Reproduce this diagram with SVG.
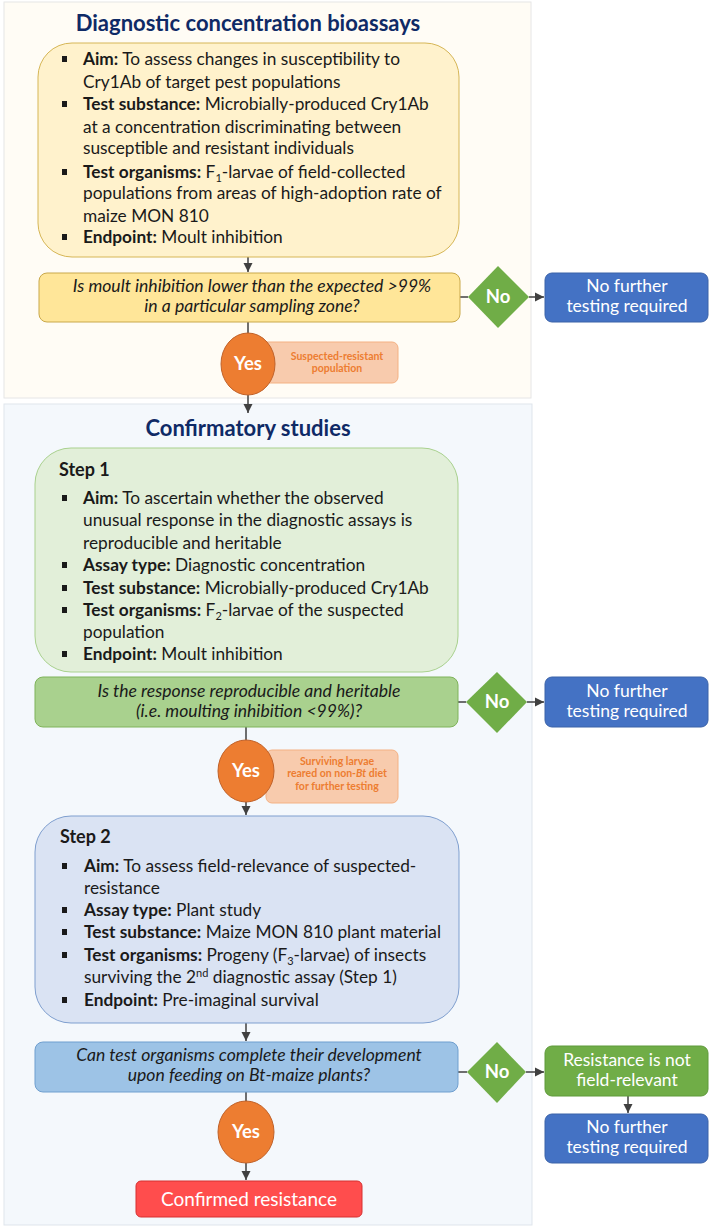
<svg xmlns="http://www.w3.org/2000/svg" width="709" height="1227" viewBox="0 0 709 1227">
<style>
text{font-family:Lato,"Open Sans","Liberation Sans",sans-serif;}
.title{font-size:22px;font-weight:bold;fill:#0f2a66;text-anchor:middle;}
.bl{font-size:17.3px;fill:#1a1a1a;}
.b{font-weight:bold;}
.step{font-size:18px;font-weight:bold;fill:#1a1a1a;}
.q{font-size:17.6px;font-style:italic;fill:#1a1a1a;text-anchor:middle;}
.w{font-size:17.5px;fill:#ffffff;text-anchor:middle;}
.cr{font-size:19px;fill:#ffffff;text-anchor:middle;}
.yn{font-size:18.5px;font-weight:bold;fill:#ffffff;text-anchor:middle;}
.lab{font-size:10.5px;font-weight:bold;fill:#ed7d31;text-anchor:middle;}
.sub{font-size:11px;}
.conn{stroke:#404040;stroke-width:1.5;fill:none;}
.arr{marker-end:url(#ah);}
.yes{fill:#ed7d31;stroke:#c0622a;stroke-width:1;}
.dia{fill:#70ad47;}
.blue{fill:#4472c4;stroke:#3a62a8;stroke-width:1;}
.lbox{fill:#f8cbad;stroke:#f4b183;stroke-width:1;}
</style>
<defs>
<marker id="ah" markerUnits="userSpaceOnUse" markerWidth="10" markerHeight="10" refX="9" refY="5" orient="auto">
<path d="M0,0.5 L9,5 L0,9.5 Z" fill="#404040"/>
</marker>
<rect id="bul" width="5" height="6" fill="#1a1a1a"/>
</defs>

<g id="panel-diagnostic">
<rect x="4" y="2" width="527" height="396" fill="#fffcf5" stroke="#e6e6e6" stroke-width="1"/>
<text class="title" x="248" y="31">Diagnostic concentration bioassays</text>
</g>
<g id="panel-confirmatory">
<rect x="4" y="404" width="528" height="821" fill="#f4f8fc" stroke="#dfe5ec" stroke-width="1"/>
<text class="title" x="248" y="436">Confirmatory studies</text>
</g>

<g id="connectors">
<line class="conn arr" x1="248" y1="257" x2="248" y2="272"/>
<line class="conn" x1="460" y1="297" x2="468" y2="297"/>
<line class="conn arr" x1="529" y1="297" x2="544" y2="297"/>
<line class="conn" x1="248" y1="322" x2="248" y2="334"/>
<line class="conn arr" x1="248" y1="395" x2="248" y2="413"/>
<line class="conn" x1="458" y1="702" x2="466" y2="702"/>
<line class="conn arr" x1="527" y1="702" x2="544" y2="702"/>
<line class="conn" x1="246" y1="727" x2="246" y2="741"/>
<line class="conn arr" x1="246" y1="802" x2="246" y2="815"/>
<line class="conn arr" x1="246" y1="1023" x2="246" y2="1041"/>
<line class="conn" x1="458" y1="1072" x2="467" y2="1072"/>
<line class="conn arr" x1="526" y1="1072" x2="544" y2="1072"/>
<line class="conn arr" x1="628" y1="1096" x2="628" y2="1113"/>
<line class="conn" x1="246" y1="1092" x2="246" y2="1102"/>
<line class="conn arr" x1="246" y1="1163" x2="246" y2="1180"/>
</g>

<g id="diag-info">
<rect x="38" y="43" width="421" height="214" rx="34" fill="#fff2cc" stroke="#d6b656" stroke-width="1"/>
<use href="#bul" x="62" y="56"/>
<text class="bl" x="83" y="65"><tspan class="b">Aim:</tspan> To assess changes in susceptibility to</text>
<text class="bl" x="83" y="88">Cry1Ab of target pest populations</text>
<use href="#bul" x="62" y="101"/>
<text class="bl" x="83" y="110"><tspan class="b">Test substance:</tspan> Microbially-produced Cry1Ab</text>
<text class="bl" x="83" y="133">at a concentration discriminating between</text>
<text class="bl" x="83" y="154">susceptible and resistant individuals</text>
<use href="#bul" x="62" y="169"/>
<text class="bl" x="83" y="178"><tspan class="b">Test organisms:</tspan> F<tspan class="sub" dy="4">1</tspan><tspan dy="-4">-larvae of field-collected</tspan></text>
<text class="bl" x="83" y="199">populations from areas of high-adoption rate of</text>
<text class="bl" x="83" y="222">maize MON 810</text>
<use href="#bul" x="62" y="234"/>
<text class="bl" x="83" y="243"><tspan class="b">Endpoint:</tspan> Moult inhibition</text>
</g>

<g id="diag-question">
<rect x="39" y="273" width="421" height="49" rx="8" fill="#ffe699" stroke="#c9a84a" stroke-width="1"/>
<text class="q" x="252" y="292">Is moult inhibition lower than the expected &gt;99%</text>
<text class="q" x="252" y="312">in a particular sampling zone?</text>
</g>

<g id="diag-no">
<path class="dia" d="M498,266 L529,297 L498,328 L468,297 Z"/>
<text class="yn" x="498" y="303">No</text>
</g>

<g id="diag-nofurther">
<rect class="blue" x="545" y="273" width="163" height="49" rx="7"/>
<text class="w" x="627" y="292">No further</text>
<text class="w" x="627" y="312">testing required</text>
</g>

<g id="diag-yes">
<rect class="lbox" x="255" y="342" width="143" height="41" rx="6"/>
<text class="lab" x="337" y="360">Suspected-resistant</text>
<text class="lab" x="337" y="372">population</text>
<ellipse class="yes" cx="248" cy="364" rx="27" ry="31"/>
<text class="yn" x="248" y="370">Yes</text>
</g>

<g id="step1">
<rect x="35" y="448" width="423" height="224" rx="36" fill="#e2efd9" stroke="#a9d18e" stroke-width="1"/>
<text class="step" x="59" y="476">Step 1</text>
<use href="#bul" x="62" y="495"/>
<text class="bl" x="83" y="504"><tspan class="b">Aim:</tspan> To ascertain whether the observed</text>
<text class="bl" x="83" y="526">unusual response in the diagnostic assays is</text>
<text class="bl" x="83" y="549">reproducible and heritable</text>
<use href="#bul" x="62" y="562"/>
<text class="bl" x="83" y="571"><tspan class="b">Assay type:</tspan> Diagnostic concentration</text>
<use href="#bul" x="62" y="585"/>
<text class="bl" x="83" y="594"><tspan class="b">Test substance:</tspan> Microbially-produced Cry1Ab</text>
<use href="#bul" x="62" y="607"/>
<text class="bl" x="83" y="616"><tspan class="b">Test organisms:</tspan> F<tspan class="sub" dy="4">2</tspan><tspan dy="-4">-larvae of the suspected</tspan></text>
<text class="bl" x="83" y="638">population</text>
<use href="#bul" x="62" y="651"/>
<text class="bl" x="83" y="660"><tspan class="b">Endpoint:</tspan> Moult inhibition</text>
</g>

<g id="step1-question">
<rect x="35" y="677" width="423" height="50" rx="8" fill="#a9d18e" stroke="#7fb35a" stroke-width="1"/>
<text class="q" x="249" y="697">Is the response reproducible and heritable</text>
<text class="q" x="249" y="717">(i.e. moulting inhibition &lt;99%)?</text>
</g>

<g id="step1-no">
<path class="dia" d="M497,672 L527,702 L497,733 L466,702 Z"/>
<text class="yn" x="497" y="708">No</text>
</g>

<g id="step1-nofurther">
<rect class="blue" x="545" y="677" width="163" height="50" rx="7"/>
<text class="w" x="627" y="697">No further</text>
<text class="w" x="627" y="717">testing required</text>
</g>

<g id="step1-yes">
<rect class="lbox" x="266" y="750" width="132" height="53" rx="6"/>
<text class="lab" x="337" y="765">Surviving larvae</text>
<text class="lab" x="337" y="777">reared on non-<tspan font-style="italic">Bt</tspan> diet</text>
<text class="lab" x="337" y="790">for further testing</text>
<ellipse class="yes" cx="246" cy="771" rx="28" ry="31"/>
<text class="yn" x="246" y="777">Yes</text>
</g>

<g id="step2">
<rect x="35" y="816" width="424" height="207" rx="36" fill="#dae3f3" stroke="#7f9fcf" stroke-width="1"/>
<text class="step" x="60" y="843">Step 2</text>
<use href="#bul" x="62" y="863"/>
<text class="bl" x="84" y="872"><tspan class="b">Aim:</tspan> To assess field-relevance of suspected-</text>
<text class="bl" x="84" y="894">resistance</text>
<use href="#bul" x="62" y="907"/>
<text class="bl" x="84" y="916"><tspan class="b">Assay type:</tspan> Plant study</text>
<use href="#bul" x="62" y="929"/>
<text class="bl" x="84" y="938"><tspan class="b">Test substance:</tspan> Maize MON 810 plant material</text>
<use href="#bul" x="62" y="952"/>
<text class="bl" x="84" y="961"><tspan class="b">Test organisms:</tspan> Progeny (F<tspan class="sub" dy="4">3</tspan><tspan dy="-4">-larvae) of insects</tspan></text>
<text class="bl" x="84" y="983">surviving the 2<tspan class="sub" dy="-6">nd</tspan><tspan dy="6"> diagnostic assay (Step 1)</tspan></text>
<use href="#bul" x="62" y="997"/>
<text class="bl" x="84" y="1006"><tspan class="b">Endpoint:</tspan> Pre-imaginal survival</text>
</g>

<g id="step2-question">
<rect x="35" y="1042" width="423" height="50" rx="8" fill="#9dc3e6" stroke="#6f9fcf" stroke-width="1"/>
<text class="q" x="249" y="1061">Can test organisms complete their development</text>
<text class="q" x="249" y="1081">upon feeding on Bt-maize plants?</text>
</g>

<g id="step2-no">
<path class="dia" d="M497,1042 L526,1072 L497,1103 L467,1072 Z"/>
<text class="yn" x="497" y="1078">No</text>
</g>

<g id="not-field-relevant">
<rect x="545" y="1046" width="163" height="50" rx="7" fill="#70ad47" stroke="#5e9a3a" stroke-width="1"/>
<text class="w" x="627" y="1066">Resistance is not</text>
<text class="w" x="627" y="1086">field-relevant</text>
</g>

<g id="step2-nofurther">
<rect class="blue" x="545" y="1114" width="163" height="49" rx="7"/>
<text class="w" x="627" y="1133">No further</text>
<text class="w" x="627" y="1153">testing required</text>
</g>

<g id="step2-yes">
<ellipse class="yes" cx="246" cy="1132" rx="28" ry="31"/>
<text class="yn" x="246" y="1138">Yes</text>
</g>

<g id="confirmed">
<rect x="136" y="1181" width="226" height="36" rx="5" fill="#ff4d4d" stroke="#d63030" stroke-width="1"/>
<text class="cr" x="249" y="1206">Confirmed resistance</text>
</g>
</svg>
